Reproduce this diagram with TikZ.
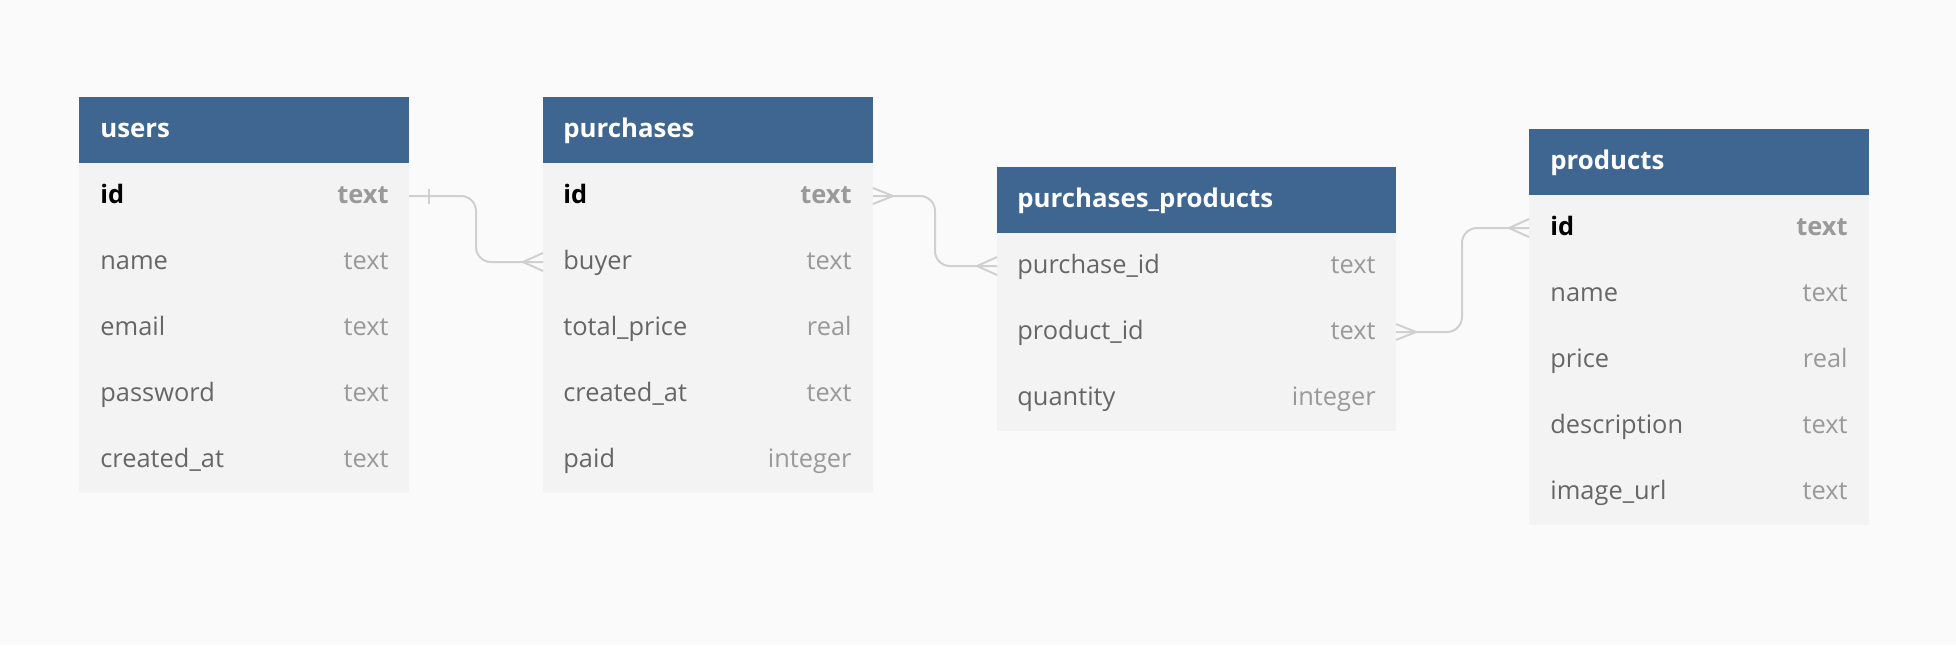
\documentclass[tikz,border=0pt]{standalone}
\usepackage{fontspec}
\setmainfont{Open Sans}
\usetikzlibrary{calc}
\definecolor{bgc}{HTML}{FAFAFA}
\definecolor{hdrc}{HTML}{3F6591}
\definecolor{rowc}{HTML}{F3F3F3}
\definecolor{namec}{HTML}{666666}
\definecolor{typec}{HTML}{999999}
\definecolor{linec}{HTML}{D0D0D0}
\tikzset{
  hdrbox/.style={fill=hdrc, draw=none, inner sep=0pt, outer sep=0pt, minimum height=33pt, anchor=north west},
  rowbox/.style={fill=rowc, draw=none, inner sep=0pt, outer sep=0pt, minimum height=33pt, anchor=north west},
  hdrtext/.style={text=white, font=\fontsize{12.9}{15}\selectfont\bfseries, inner sep=0pt, anchor=mid west, yshift=-1.2pt},
  fname/.style={text=namec, font=\fontsize{12.7}{15}\selectfont, inner sep=0pt, anchor=mid west, yshift=-1.2pt},
  ftype/.style={text=typec, font=\fontsize{12.7}{15}\selectfont, inner sep=0pt, anchor=mid east, yshift=-1.2pt},
  pkname/.style={text=black, font=\fontsize{12.7}{15}\selectfont\bfseries, inner sep=0pt, anchor=mid west, yshift=-1.2pt},
  pktype/.style={text=typec, font=\fontsize{12.7}{15}\selectfont\bfseries, inner sep=0pt, anchor=mid east, yshift=-1.2pt},
  conn/.style={draw=linec, line width=1pt},
}
\begin{document}
\begin{tikzpicture}[x=0.5pt, y=-0.5pt]
\fill[bgc] (0,0) rectangle (1956,645);
\useasboundingbox (0,0) rectangle (1956,645);

% ---------- users ----------
\node[hdrbox, minimum width=165pt] (users) at (79,97) {};
\node[hdrtext] (users-t) at ([xshift=10.5pt]users.west) {users};
\foreach \n [count=\i from 0] in {id, name, email, password, created} {
  \node[rowbox, minimum width=165pt] (users-\n) at (79,163+66*\i) {};
}
\node[pkname] at ([xshift=10.5pt]users-id.west) {id};
\node[pktype] at ([xshift=-10pt]users-id.east) {text};
\node[fname] at ([xshift=10.5pt]users-name.west) {name};
\node[ftype] at ([xshift=-10pt]users-name.east) {text};
\node[fname] at ([xshift=10.5pt]users-email.west) {email};
\node[ftype] at ([xshift=-10pt]users-email.east) {text};
\node[fname] at ([xshift=10.5pt]users-password.west) {password};
\node[ftype] at ([xshift=-10pt]users-password.east) {text};
\node[fname] at ([xshift=10.5pt]users-created.west) {created\_at};
\node[ftype] at ([xshift=-10pt]users-created.east) {text};

% ---------- purchases ----------
\node[hdrbox, minimum width=165pt] (purchases) at (543,97) {};
\node[hdrtext] at ([xshift=10pt]purchases.west) {purchases};
\foreach \n [count=\i from 0] in {id, buyer, total, created, paid} {
  \node[rowbox, minimum width=165pt] (purchases-\n) at (543,163+66*\i) {};
}
\node[pkname] at ([xshift=10pt]purchases-id.west) {id};
\node[pktype] at ([xshift=-10.5pt]purchases-id.east) {text};
\node[fname] at ([xshift=10pt]purchases-buyer.west) {buyer};
\node[ftype] at ([xshift=-10.5pt]purchases-buyer.east) {text};
\node[fname] at ([xshift=10pt]purchases-total.west) {total\_price};
\node[ftype] at ([xshift=-10.5pt]purchases-total.east) {real};
\node[fname] at ([xshift=10pt]purchases-created.west) {created\_at};
\node[ftype] at ([xshift=-10.5pt]purchases-created.east) {text};
\node[fname] at ([xshift=10pt]purchases-paid.west) {paid};
\node[ftype] at ([xshift=-10.5pt]purchases-paid.east) {integer};

% ---------- purchases_products ----------
\node[hdrbox, minimum width=199.5pt] (pp) at (997,167) {};
\node[hdrtext] at ([xshift=10pt]pp.west) {purchases\_products};
\foreach \n [count=\i from 0] in {purchase, product, quantity} {
  \node[rowbox, minimum width=199.5pt] (pp-\n) at (997,233+66*\i) {};
}
\node[fname] at ([xshift=10pt]pp-purchase.west) {purchase\_id};
\node[ftype] at ([xshift=-10pt]pp-purchase.east) {text};
\node[fname] at ([xshift=10pt]pp-product.west) {product\_id};
\node[ftype] at ([xshift=-10pt]pp-product.east) {text};
\node[fname] at ([xshift=10pt]pp-quantity.west) {quantity};
\node[ftype] at ([xshift=-10pt]pp-quantity.east) {integer};

% ---------- products ----------
\node[hdrbox, minimum width=170pt] (products) at (1529,129) {};
\node[hdrtext] at ([xshift=10.5pt]products.west) {products};
\foreach \n [count=\i from 0] in {id, name, price, description, image} {
  \node[rowbox, minimum width=170pt] (products-\n) at (1529,195+66*\i) {};
}
\node[pkname] at ([xshift=10.5pt]products-id.west) {id};
\node[pktype] at ([xshift=-10.5pt]products-id.east) {text};
\node[fname] at ([xshift=10.5pt]products-name.west) {name};
\node[ftype] at ([xshift=-10.5pt]products-name.east) {text};
\node[fname] at ([xshift=10.5pt]products-price.west) {price};
\node[ftype] at ([xshift=-10.5pt]products-price.east) {real};
\node[fname] at ([xshift=10.5pt]products-description.west) {description};
\node[ftype] at ([xshift=-10.5pt]products-description.east) {text};
\node[fname] at ([xshift=10.5pt]products-image.west) {image\_url};
\node[ftype] at ([xshift=-10.5pt]products-image.east) {text};

% ---------- connectors ----------
\draw[conn, rounded corners=7.5pt] (users-id.east) -- ++(67,0) |- (purchases-buyer.west);
\draw[conn] (users-id.east) ++(20,-7.5) -- ++(0,15);
\draw[conn] (purchases-buyer.west) ++(0,-9) -- ++(-20,9) -- ++(20,9);

\draw[conn, rounded corners=7.5pt] (purchases-id.east) -- ++(62,0) |- (pp-purchase.west);
\draw[conn] (purchases-id.east) ++(0,-8) -- ++(20,8) -- ++(-20,8);
\draw[conn] (pp-purchase.west) ++(0,-9) -- ++(-20,9) -- ++(20,9);

\draw[conn, rounded corners=7.5pt] (pp-product.east) -- ++(66,0) |- (products-id.west);
\draw[conn] (pp-product.east) ++(0,-8) -- ++(20,8) -- ++(-20,8);
\draw[conn] (products-id.west) ++(0,-9) -- ++(-20,9) -- ++(20,9);
\end{tikzpicture}
\end{document}
